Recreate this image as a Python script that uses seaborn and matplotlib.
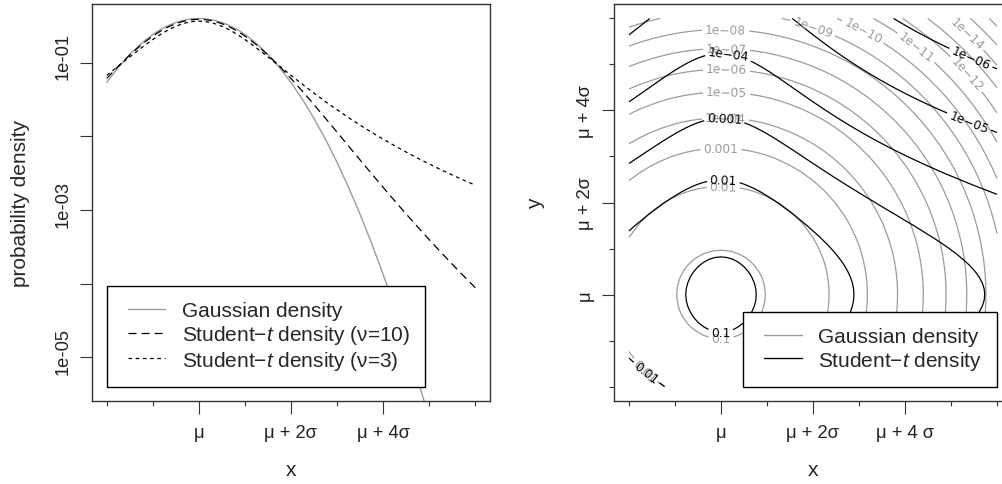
import numpy as np
import pandas as pd
import matplotlib
matplotlib.use("Agg")
import matplotlib.pyplot as plt
import seaborn as sns
from matplotlib.lines import Line2D
from matplotlib.legend_handler import HandlerLine2D
from matplotlib.ticker import NullLocator
from matplotlib.transforms import ScaledTranslation

# ---------------- data ----------------
# sample positions in units of sigma, (x - mu)/sigma (finer near the centre)
x_sigma = [-2.0, -1.75, -1.5, -1.25, -1.125, -1.0, -0.875, -0.75, -0.625, -0.5,
           -0.375, -0.25, -0.125, 0.0, 0.125, 0.25, 0.375, 0.5, 0.625, 0.75,
           0.875, 1.0, 1.125, 1.25, 1.5, 1.75, 2.0, 2.25, 2.5, 2.75, 3.0, 3.25,
           3.5, 3.75, 4.0, 4.25, 4.5, 4.75, 5.0, 5.25, 5.5, 5.75, 6.0]

gauss_density = [0.05399, 0.08628, 0.1295, 0.1826, 0.2119, 0.2420, 0.2721, 0.3011,
                 0.3282, 0.3521, 0.3719, 0.3867, 0.3958, 0.3989, 0.3958, 0.3867,
                 0.3719, 0.3521, 0.3282, 0.3011, 0.2721, 0.2420, 0.2119, 0.1826,
                 0.1295, 0.08628, 0.05399, 0.03174, 0.01753, 0.009094, 0.004432,
                 0.002029, 8.727e-4, 3.526e-4, 1.338e-4, 4.772e-5, 1.598e-5,
                 5.030e-6, 1.487e-6, 4.129e-7, 1.077e-7, 2.639e-8, 6.076e-9]

t10_density = [0.06115, 0.08953, 0.1274, 0.1751, 0.2020, 0.2304, 0.2593, 0.2880,
               0.3152, 0.3397, 0.3603, 0.3760, 0.3858, 0.3891, 0.3858, 0.3760,
               0.3603, 0.3397, 0.3152, 0.2880, 0.2593, 0.2304, 0.2020, 0.1751,
               0.1274, 0.08953, 0.06115, 0.04089, 0.02694, 0.01757, 0.01140,
               0.007382, 0.004784, 0.003110, 0.002031, 0.001335, 8.833e-4,
               5.890e-4, 3.960e-4, 2.685e-4, 1.836e-4, 1.266e-4, 8.809e-5]

t3_density = [0.06751, 0.09000, 0.1200, 0.1589, 0.1818, 0.2067, 0.2333, 0.2606,
              0.2877, 0.3132, 0.3354, 0.3527, 0.3638, 0.3676, 0.3638, 0.3527,
              0.3354, 0.3132, 0.2877, 0.2606, 0.2333, 0.2067, 0.1818, 0.1589,
              0.1200, 0.09000, 0.06751, 0.05089, 0.03866, 0.02965, 0.02297,
              0.01798, 0.01422, 0.01136, 0.009163, 0.007457, 0.006120,
              0.005062, 0.004219, 0.003542, 0.002992, 0.002544, 0.002175]

series_labels = ["Gaussian density", "Student\u2212$t$ density (\u03bd=10)",
                 "Student\u2212$t$ density (\u03bd=3)"]
contour_legend_labels = ["Gaussian density", "Student\u2212$t$ density"]

x_tick_all = [-2, -1, 0, 1, 2, 3, 4, 5, 6]
x_tick_major = [0, 2, 4]
left_x_tick_labels = ["\u03bc", "\u03bc + 2\u03c3", "\u03bc + 4\u03c3"]
right_x_tick_labels = ["\u03bc", "\u03bc + 2\u03c3", "\u03bc + 4 \u03c3"]
right_y_tick_labels = ["\u03bc", "\u03bc + 2\u03c3", "\u03bc + 4\u03c3"]

y_tick_values = [1e-1, 1e-2, 1e-3, 1e-4, 1e-5]
y_tick_labels = ["1e-01", "", "1e-03", "", "1e-05"]
y_range = [4e-6, 0.4]

contour_levels = [1e-1, 1e-2, 1e-3, 1e-4, 1e-5, 1e-6, 1e-7, 1e-8, 1e-9, 1e-10,
                  1e-11, 1e-12, 1e-13, 1e-14, 1e-15, 1e-16]
contour_level_text = ["0.1", "0.01", "0.001"] + ["1e\u2212%02d" % k for k in range(4, 17)]

# ---------------- style ----------------
sns.set_theme(style="ticks")
plt.rcParams.update({
    "font.family": ["Liberation Sans", "DejaVu Sans"],
    "mathtext.fontset": "custom",
    "mathtext.rm": "Liberation Sans",
    "mathtext.it": "Liberation Sans:italic",
    "mathtext.bf": "Liberation Sans:bold",
    "lines.scale_dashes": False,
    "axes.linewidth": 1.0,
    "axes.edgecolor": "#333333",
    "xtick.color": "#333333",
    "ytick.color": "#333333",
    "xtick.labelcolor": "#222222",
    "ytick.labelcolor": "#222222",
    "contour.negative_linestyle": "solid",
})

GRAY = "#9c9c9c"
FS_LABEL = 15
FS_TICK = 13.2
FS_CLABEL = 8.8

W, H = 1002, 485
fig = plt.figure(figsize=(W / 100, H / 100), dpi=100)
ax_bottom = (H - 402.3) / H
ax_h = 397.6 / H
ax1 = fig.add_axes([92.0 / W, ax_bottom, 398.0 / W, ax_h])
ax2 = fig.add_axes([614.3 / W, ax_bottom, 397.4 / W, ax_h])

pad = 0.04
xs = np.asarray(x_sigma)
x_lim = (xs[0] - pad * (xs[-1] - xs[0]), xs[-1] + pad * (xs[-1] - xs[0]))
ly0, ly1 = np.log10(y_range)
y_lim = (10 ** (ly0 - pad * (ly1 - ly0)), 10 ** (ly1 + pad * (ly1 - ly0)))

# ---------------- left panel ----------------
df = pd.DataFrame({"x": xs, "g": gauss_density, "t10": t10_density, "t3": t3_density})
sns.lineplot(data=df, x="x", y="g", ax=ax1, color=GRAY, lw=1.0, label=series_labels[0])
sns.lineplot(data=df, x="x", y="t10", ax=ax1, color="black", lw=0.9,
             linestyle=(0, (5.8, 3.6)), label=series_labels[1])
sns.lineplot(data=df, x="x", y="t3", ax=ax1, color="black", lw=0.9,
             linestyle=(0, (2.6, 2.6)), label=series_labels[2])
ax1.set_yscale("log")
ax1.set_xlim(*x_lim)
ax1.set_ylim(*y_lim)

ax1.set_xticks(x_tick_major)
ax1.set_xticklabels(left_x_tick_labels)
ax1.set_xticks([v for v in x_tick_all if v not in x_tick_major], minor=True)
ax1.set_yticks(y_tick_values)
ax1.set_yticklabels(y_tick_labels, rotation=90, va="center")
ax1.yaxis.set_minor_locator(NullLocator())
ax1.tick_params(axis="x", which="major", length=9, width=0.8, pad=7, labelsize=FS_TICK)
ax1.tick_params(axis="x", which="minor", length=3.7, width=0.8)
ax1.tick_params(axis="y", which="major", length=9, width=0.8, pad=5.5, labelsize=FS_TICK)
ax1.set_xlabel("x", fontsize=FS_LABEL)
ax1.set_ylabel("probability density", fontsize=FS_LABEL)
ax1.xaxis.set_label_coords(0.5, -0.147)
ax1.yaxis.set_label_coords(-0.156, 0.5)
shift_up = ScaledTranslation(0, 7 / 100, fig.dpi_scale_trans)
for lab in ax1.get_yticklabels():
    lab.set_transform(lab.get_transform() + shift_up)

hmap = {Line2D: HandlerLine2D(numpoints=2, marker_pad=0.3)}
leg_kw = dict(borderaxespad=0, frameon=True, fancybox=False, edgecolor="black",
              framealpha=1, fontsize=FS_LABEL, handlelength=2.4, handletextpad=0.5,
              borderpad=0.72, labelspacing=0.13, handler_map=hmap)
ax_frac = pad / (1 + 2 * pad)
leg1 = ax1.legend(loc="lower left", bbox_to_anchor=(ax_frac, ax_frac),
                  bbox_transform=ax1.transAxes, **leg_kw)
leg1.get_frame().set_linewidth(1.0)

# ---------------- right panel ----------------
gauss_arr = np.asarray(gauss_density)
field_gauss = np.log10(np.outer(gauss_arr, gauss_arr))
field_t = np.log10(np.outer(np.asarray(t10_density), np.asarray(t3_density)))
log_levels = sorted(np.log10(contour_levels))
label_of = {int(round(-np.log10(v))): s for v, s in zip(contour_levels, contour_level_text)}
fmt = lambda v: label_of[int(round(-v))]

ax2.set_xlim(*x_lim)
ax2.set_ylim(*x_lim)
cs_g = ax2.contour(xs, xs, field_gauss, levels=log_levels, colors=GRAY,
                   linewidths=0.9, linestyles="solid", negative_linestyles="solid")
cs_t = ax2.contour(xs, xs, field_t, levels=log_levels, colors="black",
                   linewidths=0.9, linestyles="solid", negative_linestyles="solid")

gray_label_pos = [(0.0, -0.96), (0.05, 2.35), (-1.66, -1.66), (0.0, 3.18), (0.1, 3.84),
                  (0.12, 4.40), (0.12, 4.90), (0.12, 5.34), (0.10, 5.75), (2.0, 5.81),
                  (3.08, 5.70), (4.22, 5.34), (5.32, 4.78), (5.30, 5.63)]
black_label_pos = [(0.0, -0.75), (0.05, 2.44), (-1.62, -1.70), (0.07, 3.72), (0.14, 5.08),
                   (5.41, 3.80), (5.43, 5.14)]
with plt.rc_context({"font.family": ["DejaVu Sans"]}):
    ax2.clabel(cs_g, manual=gray_label_pos, inline=True, inline_spacing=3,
               fontsize=FS_CLABEL, fmt=fmt, colors=GRAY)
    ax2.clabel(cs_t, manual=black_label_pos, inline=True, inline_spacing=3,
               fontsize=FS_CLABEL, fmt=fmt, colors="black")

ax2.set_xticks(x_tick_major)
ax2.set_xticklabels(right_x_tick_labels)
ax2.set_xticks([v for v in x_tick_all if v not in x_tick_major], minor=True)
ax2.set_yticks(x_tick_major)
ax2.set_yticklabels(right_y_tick_labels, rotation=90, va="center")
ax2.set_yticks([v for v in x_tick_all if v not in x_tick_major], minor=True)
ax2.tick_params(axis="both", which="major", length=9, width=0.8, labelsize=FS_TICK)
ax2.tick_params(axis="x", which="major", pad=7)
ax2.tick_params(axis="y", which="major", pad=5.5)
ax2.tick_params(axis="both", which="minor", length=3.7, width=0.8)
ax2.set_xlabel("x", fontsize=FS_LABEL)
ax2.set_ylabel("y", fontsize=FS_LABEL)
ax2.xaxis.set_label_coords(0.5, -0.147)
ax2.yaxis.set_label_coords(-0.174, 0.5)

proxies = [Line2D([], [], color=GRAY, lw=1.0), Line2D([], [], color="black", lw=1.0)]
leg2 = ax2.legend(proxies, contour_legend_labels, loc="lower right",
                  bbox_to_anchor=(1 - ax_frac, ax_frac), bbox_transform=ax2.transAxes, **leg_kw)
leg2.get_frame().set_linewidth(1.0)

for ax in (ax1, ax2):
    for s in ax.spines.values():
        s.set_visible(True)
        s.set_zorder(5)

fig.savefig("out.png", dpi=100)
